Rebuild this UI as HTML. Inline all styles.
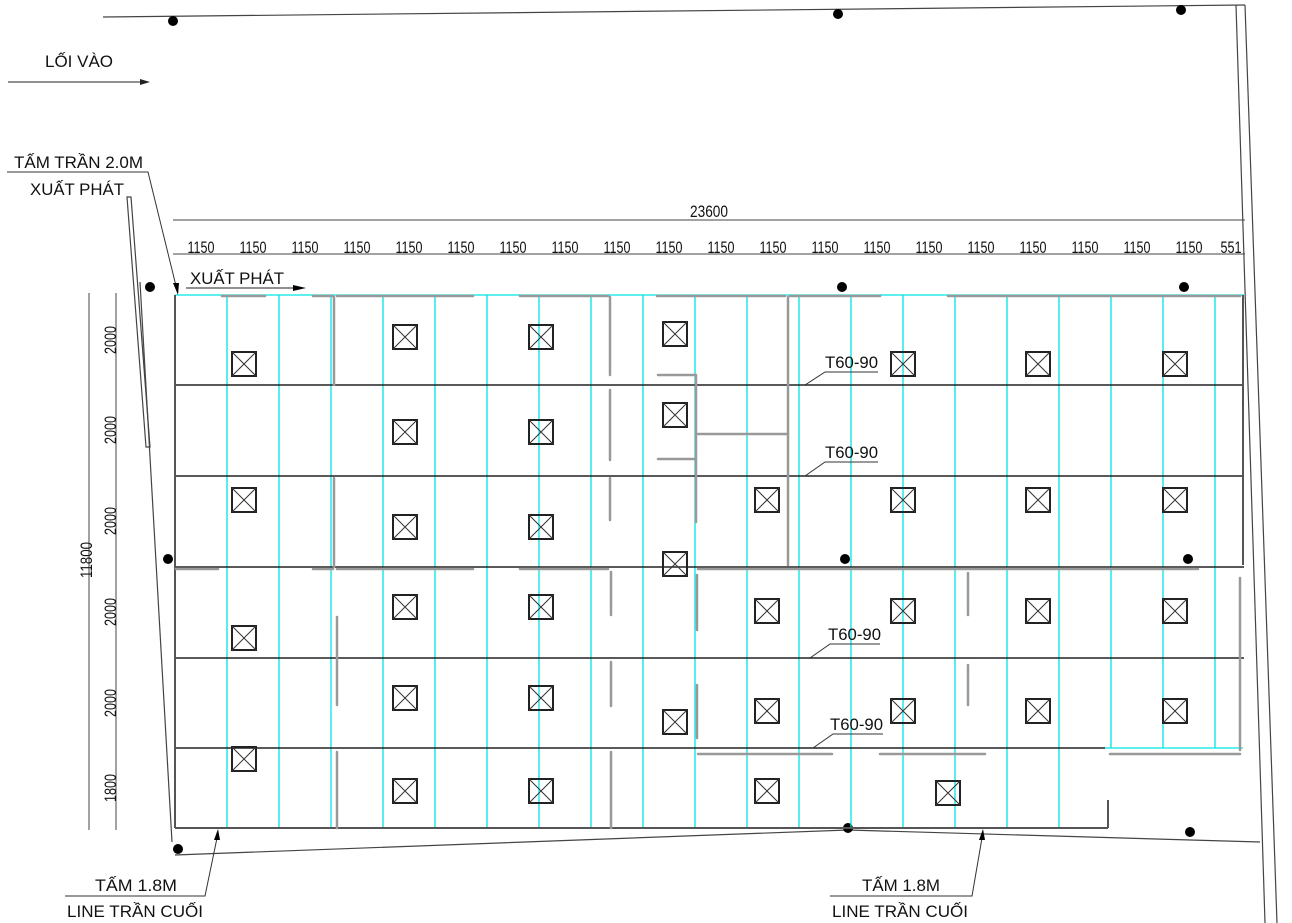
<!DOCTYPE html>
<html><head><meta charset="utf-8"><style>
html,body{margin:0;padding:0;background:#fff;}
svg{display:block;}
text{font-family:"Liberation Sans",sans-serif;fill:#111;}
</style></head><body>
<svg width="1292" height="923" viewBox="0 0 1292 923" xmlns="http://www.w3.org/2000/svg">
<defs>
<g id="b"><rect x="-12" y="-12" width="24" height="24" fill="none" stroke="#222" stroke-width="2"/><path d="M-12,-12L12,12M12,-12L-12,12" stroke="#333" stroke-width="1"/></g>
</defs>
<g stroke="#444" stroke-width="1.2" fill="none">
<line x1="103" y1="17" x2="1245" y2="5"/>
<line x1="1236" y1="5" x2="1265" y2="923"/>
<line x1="1245" y1="5" x2="1277" y2="923"/>
<line x1="140" y1="282" x2="172" y2="842"/>
<polyline points="175,855 848,830 1260,842"/>
<polygon points="127,197 131,197 150,447 146,447"/>
</g>
<g fill="#000">
<circle cx="173" cy="21" r="5"/><circle cx="838" cy="14" r="5"/><circle cx="1181" cy="10" r="5"/>
<circle cx="150" cy="287" r="5"/><circle cx="842" cy="287" r="5"/><circle cx="1184" cy="287" r="5"/>
<circle cx="168" cy="559" r="5"/><circle cx="845" cy="559" r="5"/><circle cx="1188" cy="559" r="5"/>
<circle cx="178" cy="849" r="5"/><circle cx="848" cy="828" r="5"/><circle cx="1190" cy="832" r="5"/>
</g>
<text x="45" y="67" font-size="17">LỐI VÀO</text>
<line x1="8" y1="82" x2="140" y2="82" stroke="#222" stroke-width="1"/>
<polygon points="140,79 150,82 140,85" fill="#222"/>
<text x="14" y="168" font-size="17" textLength="129" lengthAdjust="spacingAndGlyphs">TẤM TRẦN 2.0M</text>
<text x="30" y="195" font-size="17" textLength="94" lengthAdjust="spacingAndGlyphs">XUẤT PHÁT</text>
<polyline points="7,172 148,172 177,290" fill="none" stroke="#333" stroke-width="1"/>
<polygon points="173,283 179,283 178,295" fill="#000"/>
<text x="190" y="284" font-size="17" textLength="94" lengthAdjust="spacingAndGlyphs">XUẤT PHÁT</text>
<line x1="186" y1="288" x2="295" y2="288" stroke="#222" stroke-width="1"/>
<polygon points="293,285 306,288 293,291" fill="#000"/>
<line x1="173" y1="220" x2="1245" y2="220" stroke="#444" stroke-width="1"/>
<text x="690" y="217" font-size="17" textLength="38" lengthAdjust="spacingAndGlyphs">23600</text>
<line x1="173" y1="254" x2="1245" y2="254" stroke="#444" stroke-width="1"/>
<g font-size="17" text-anchor="middle" lengthAdjust="spacingAndGlyphs">
<text x="201" y="253" textLength="27" lengthAdjust="spacingAndGlyphs">1150</text><text x="253" y="253" textLength="27" lengthAdjust="spacingAndGlyphs">1150</text><text x="305" y="253" textLength="27" lengthAdjust="spacingAndGlyphs">1150</text><text x="357" y="253" textLength="27" lengthAdjust="spacingAndGlyphs">1150</text><text x="409" y="253" textLength="27" lengthAdjust="spacingAndGlyphs">1150</text><text x="461" y="253" textLength="27" lengthAdjust="spacingAndGlyphs">1150</text><text x="513" y="253" textLength="27" lengthAdjust="spacingAndGlyphs">1150</text><text x="565" y="253" textLength="27" lengthAdjust="spacingAndGlyphs">1150</text><text x="617" y="253" textLength="27" lengthAdjust="spacingAndGlyphs">1150</text><text x="669" y="253" textLength="27" lengthAdjust="spacingAndGlyphs">1150</text><text x="721" y="253" textLength="27" lengthAdjust="spacingAndGlyphs">1150</text><text x="773" y="253" textLength="27" lengthAdjust="spacingAndGlyphs">1150</text><text x="825" y="253" textLength="27" lengthAdjust="spacingAndGlyphs">1150</text><text x="877" y="253" textLength="27" lengthAdjust="spacingAndGlyphs">1150</text><text x="929" y="253" textLength="27" lengthAdjust="spacingAndGlyphs">1150</text><text x="981" y="253" textLength="27" lengthAdjust="spacingAndGlyphs">1150</text><text x="1033" y="253" textLength="27" lengthAdjust="spacingAndGlyphs">1150</text><text x="1085" y="253" textLength="27" lengthAdjust="spacingAndGlyphs">1150</text><text x="1137" y="253" textLength="27" lengthAdjust="spacingAndGlyphs">1150</text><text x="1189" y="253" textLength="27" lengthAdjust="spacingAndGlyphs">1150</text><text x="1231" y="253" textLength="21" lengthAdjust="spacingAndGlyphs">551</text>
</g>
<line x1="89" y1="293" x2="89" y2="830" stroke="#444" stroke-width="1"/>
<line x1="116" y1="293" x2="116" y2="830" stroke="#444" stroke-width="1"/>
<g font-size="17" text-anchor="middle">
<text transform="translate(92,560) rotate(-90)" textLength="36" lengthAdjust="spacingAndGlyphs">11800</text>
<text transform="translate(116,340) rotate(-90)" textLength="28" lengthAdjust="spacingAndGlyphs">2000</text>
<text transform="translate(116,430) rotate(-90)" textLength="28" lengthAdjust="spacingAndGlyphs">2000</text>
<text transform="translate(116,521) rotate(-90)" textLength="28" lengthAdjust="spacingAndGlyphs">2000</text>
<text transform="translate(116,612) rotate(-90)" textLength="28" lengthAdjust="spacingAndGlyphs">2000</text>
<text transform="translate(116,703) rotate(-90)" textLength="28" lengthAdjust="spacingAndGlyphs">2000</text>
<text transform="translate(116,788) rotate(-90)" textLength="28" lengthAdjust="spacingAndGlyphs">1800</text>
</g>
<g stroke="#00e5e5" stroke-width="1.3">
<line x1="175" y1="295" x2="1244" y2="295"/>
<line x1="227" y1="295" x2="227" y2="828"/><line x1="279" y1="295" x2="279" y2="828"/><line x1="331" y1="295" x2="331" y2="828"/><line x1="383" y1="295" x2="383" y2="828"/><line x1="435" y1="295" x2="435" y2="828"/><line x1="487" y1="295" x2="487" y2="828"/><line x1="539" y1="295" x2="539" y2="828"/><line x1="591" y1="295" x2="591" y2="828"/><line x1="643" y1="295" x2="643" y2="828"/><line x1="695" y1="295" x2="695" y2="828"/><line x1="747" y1="295" x2="747" y2="828"/><line x1="799" y1="295" x2="799" y2="828"/><line x1="851" y1="295" x2="851" y2="828"/><line x1="903" y1="295" x2="903" y2="828"/><line x1="955" y1="295" x2="955" y2="828"/><line x1="1007" y1="295" x2="1007" y2="828"/><line x1="1059" y1="295" x2="1059" y2="828"/>
<line x1="1111" y1="295" x2="1111" y2="748"/><line x1="1163" y1="295" x2="1163" y2="748"/><line x1="1215" y1="295" x2="1215" y2="748"/>
<line x1="1105" y1="748" x2="1243" y2="748"/>
</g>
<g stroke="#222" stroke-width="1.6">
<line x1="175" y1="385" x2="1244" y2="385"/><line x1="175" y1="476" x2="1244" y2="476"/><line x1="175" y1="567" x2="1244" y2="567"/><line x1="175" y1="658" x2="1244" y2="658"/><line x1="175" y1="748" x2="1105" y2="748"/>
</g>
<g stroke="#555" stroke-width="2" fill="none">
<line x1="175" y1="295" x2="175" y2="828"/>
<line x1="175" y1="828" x2="1108" y2="828"/>
<line x1="1108" y1="800" x2="1108" y2="828"/>
<line x1="1243" y1="295" x2="1243" y2="565"/>
</g>
<g stroke="#999" stroke-width="2.5" stroke-linecap="round" fill="none">
<line x1="222" y1="296" x2="265" y2="296"/><line x1="313" y1="296" x2="333" y2="296"/><line x1="337" y1="296" x2="473" y2="296"/><line x1="520" y1="296" x2="608" y2="296"/><line x1="657" y1="296" x2="785" y2="296"/><line x1="790" y1="296" x2="880" y2="296"/><line x1="948" y1="296" x2="1240" y2="296"/>
<line x1="334" y1="297" x2="334" y2="385"/><line x1="334" y1="478" x2="334" y2="567"/><line x1="337" y1="617" x2="337" y2="705"/><line x1="337" y1="752" x2="337" y2="828"/>
<line x1="610" y1="297" x2="610" y2="375"/><line x1="610" y1="390" x2="610" y2="460"/><line x1="610" y1="478" x2="610" y2="520"/><line x1="611" y1="572" x2="611" y2="615"/><line x1="611" y1="662" x2="611" y2="706"/><line x1="611" y1="752" x2="611" y2="828"/>
<line x1="696" y1="375" x2="696" y2="522"/><line x1="658" y1="375" x2="695" y2="375"/><line x1="658" y1="459" x2="695" y2="459"/><line x1="698" y1="434" x2="788" y2="434"/>
<line x1="788" y1="297" x2="788" y2="565"/>
<line x1="176" y1="569" x2="218" y2="569"/><line x1="313" y1="569" x2="333" y2="569"/><line x1="337" y1="569" x2="473" y2="569"/><line x1="520" y1="569" x2="608" y2="569"/><line x1="698" y1="569" x2="1198" y2="569"/>
<line x1="697" y1="575" x2="697" y2="630"/><line x1="697" y1="685" x2="697" y2="738"/>
<line x1="968" y1="573" x2="968" y2="615"/><line x1="968" y1="665" x2="968" y2="705"/>
<line x1="1240" y1="578" x2="1240" y2="750"/>
<line x1="698" y1="754" x2="832" y2="754"/><line x1="880" y1="754" x2="985" y2="754"/><line x1="1110" y1="754" x2="1240" y2="754"/>
</g>
<g>
<use href="#b" x="244" y="364"/><use href="#b" x="405" y="337"/><use href="#b" x="541" y="337"/><use href="#b" x="675" y="334"/><use href="#b" x="903" y="364"/><use href="#b" x="1038" y="364"/><use href="#b" x="1175" y="364"/>
<use href="#b" x="405" y="432"/><use href="#b" x="541" y="432"/><use href="#b" x="675" y="415"/>
<use href="#b" x="244" y="500"/><use href="#b" x="405" y="527"/><use href="#b" x="541" y="527"/><use href="#b" x="767" y="500"/><use href="#b" x="903" y="500"/><use href="#b" x="1038" y="500"/><use href="#b" x="1175" y="500"/>
<use href="#b" x="675" y="564"/>
<use href="#b" x="244" y="638"/><use href="#b" x="405" y="607"/><use href="#b" x="541" y="607"/><use href="#b" x="767" y="611"/><use href="#b" x="903" y="611"/><use href="#b" x="1038" y="611"/><use href="#b" x="1175" y="611"/>
<use href="#b" x="405" y="698"/><use href="#b" x="541" y="698"/><use href="#b" x="675" y="722"/><use href="#b" x="767" y="711"/><use href="#b" x="903" y="711"/><use href="#b" x="1038" y="711"/><use href="#b" x="1175" y="711"/>
<use href="#b" x="244" y="759"/><use href="#b" x="405" y="791"/><use href="#b" x="541" y="791"/><use href="#b" x="767" y="791"/><use href="#b" x="948" y="793"/>
</g>
<g font-size="17">
<text x="825" y="368" textLength="53" lengthAdjust="spacingAndGlyphs">T60-90</text><text x="825" y="458" textLength="53" lengthAdjust="spacingAndGlyphs">T60-90</text><text x="828" y="640" textLength="53" lengthAdjust="spacingAndGlyphs">T60-90</text><text x="830" y="730" textLength="53" lengthAdjust="spacingAndGlyphs">T60-90</text>
</g>
<g stroke="#333" stroke-width="1" fill="none">
<polyline points="805,385 825,372 878,372"/><polyline points="805,476 825,462 878,462"/><polyline points="810,658 830,644 880,644"/><polyline points="813,748 833,734 883,734"/>
</g>
<text x="95" y="891" font-size="17" textLength="82" lengthAdjust="spacingAndGlyphs">TẤM 1.8M</text>
<text x="67" y="917" font-size="17" textLength="136" lengthAdjust="spacingAndGlyphs">LINE TRẦN CUỐI</text>
<polyline points="65,896 205,896 217,838" fill="none" stroke="#333" stroke-width="1"/>
<polygon points="214,840 220,840 218,829" fill="#000"/>
<text x="862" y="891" font-size="17" textLength="78" lengthAdjust="spacingAndGlyphs">TẤM 1.8M</text>
<text x="832" y="917" font-size="17" textLength="136" lengthAdjust="spacingAndGlyphs">LINE TRẦN CUỐI</text>
<polyline points="830,896 972,896 982,838" fill="none" stroke="#333" stroke-width="1"/>
<polygon points="979,840 985,840 983,829" fill="#000"/>
</svg>
</body></html>
